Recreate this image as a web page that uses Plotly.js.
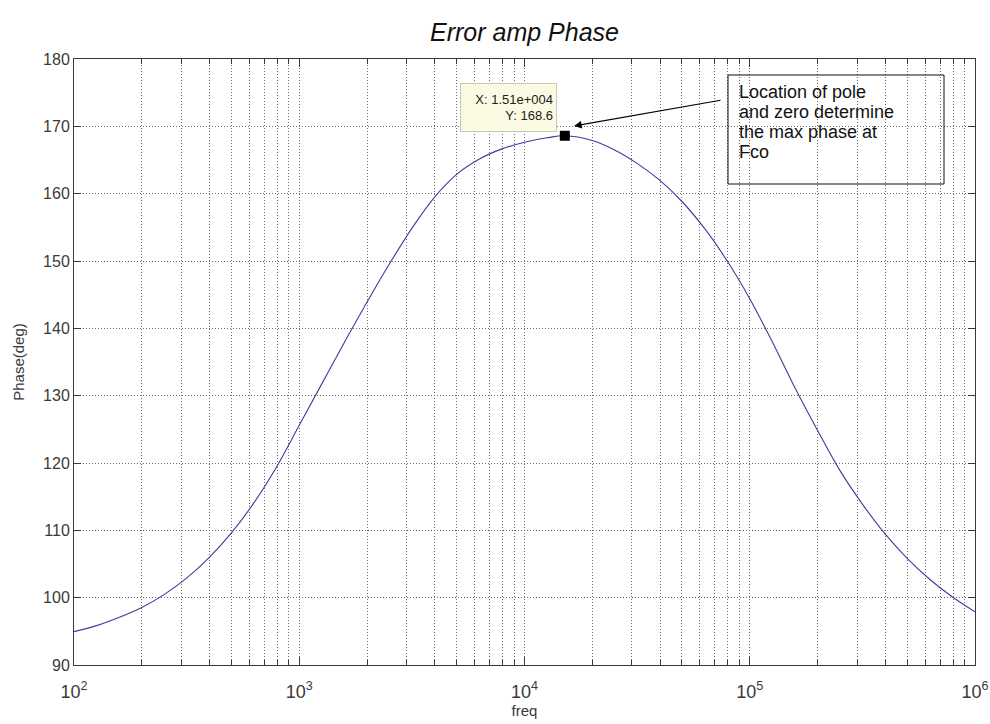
<!DOCTYPE html>
<html>
<head>
<meta charset="utf-8">
<script src="https://cdn.plot.ly/plotly-3.0.1.min.js"></script>
<style>
  html, body { margin: 0; padding: 0; background: #ffffff; }
  #chart { width: 990px; height: 724px; }
</style>
</head>
<body>
<div id="chart"></div>
<script>
// ---- data (frequency in Hz, phase in degrees) ----
const freq = [100, 126, 158, 200, 251, 316, 398, 501, 631, 794, 1000, 1259, 1585, 1995, 2512, 3162, 3981, 5012, 6310, 7943, 10000, 12589, 15100, 19953, 25119, 31623, 39811, 50119, 63096, 79433, 100000, 125893, 158489, 199526, 251189, 316228, 398107, 501187, 630957, 794328, 1000000];
const phase = [94.95, 95.85, 97.05, 98.55, 100.45, 102.9, 105.95, 109.65, 114.15, 119.45, 125.6, 131.75, 137.9, 143.85, 149.55, 154.85, 159.45, 162.9, 165.15, 166.65, 167.65, 168.3, 168.6, 167.9, 166.5, 164.5, 162.0, 158.8, 154.8, 150.0, 144.4, 138.0, 131.2, 124.9, 118.9, 113.9, 109.5, 105.8, 102.7, 100.1, 97.9];
const tipX = 15100;
const tipY = 168.6;
const noteLines = ["Location of pole", "and zero determine", "the max phase at", "Fco"];
const titleText = "Error amp Phase";
const xTitle = "freq";
const yTitle = "Phase(deg)";
const yRange = [90, 180];
const xDecades = [2, 3, 4, 5, 6];

// ---- layout helpers ----
const W = 990, H = 724;
const M = {l: 74, r: 15, t: 59, b: 59};
const PW = W - M.l - M.r, PH = H - M.t - M.b;
const px = v => (v - M.l) / PW;
const py = v => (H - M.b - v) / PH;

function matlabExp(v) {
  const s = v.toExponential(2);
  const [m, e] = s.split('e');
  const sign = e[0];
  const digits = e.slice(1).padStart(3, '0');
  return m + 'e' + sign + digits;
}

const FONT = '"Liberation Sans", Arial, sans-serif';
const gridDash = '1px,2px';
const gridColor = '#6a6a6a';

const traces = [
  {
    x: freq, y: phase, type: 'scatter', mode: 'lines',
    line: {color: '#3d3d9c', width: 1.1, shape: 'spline', smoothing: 1},
    hoverinfo: 'skip', showlegend: false
  },
  {
    x: [tipX], y: [tipY], type: 'scatter', mode: 'markers',
    marker: {symbol: 'square', size: 10, color: '#000000'},
    hoverinfo: 'skip', showlegend: false
  }
];

const annotations = [
  {
    xref: 'x', yref: 'y', x: Math.log10(tipX), y: tipY,
    text: 'X: ' + matlabExp(tipX) + '<br>Y: ' + tipY.toFixed(1),
    showarrow: false, xanchor: 'right', yanchor: 'bottom',
    xshift: -8, yshift: 4, align: 'right',
    bgcolor: '#fbfbe3', bordercolor: '#c8c8b4', borderwidth: 1, borderpad: 3,
    width: 89, height: 41,
    font: {family: FONT, size: 13, color: '#222222'}
  },
  {
    xref: 'paper', yref: 'paper', x: px(574), y: py(126),
    ax: 148, ay: -26, text: '', showarrow: true,
    arrowhead: 2, arrowsize: 1.4, arrowwidth: 1.1, arrowcolor: '#000000'
  }
];
noteLines.forEach((t, i) => {
  annotations.push({
    xref: 'paper', yref: 'paper', x: px(737), y: py(92 + i * 20),
    text: t, showarrow: false, xanchor: 'left', yanchor: 'middle',
    font: {family: FONT, size: 18, color: '#111111'}
  });
});

const layout = {
  width: W, height: H,
  margin: M,
  paper_bgcolor: '#ffffff', plot_bgcolor: '#ffffff',
  font: {family: FONT, size: 16, color: '#3a3a3a'},
  title: {
    text: titleText, x: 0.5, xref: 'paper', xanchor: 'center',
    y: 1 - 32 / H, yref: 'container', yanchor: 'middle',
    font: {family: FONT, size: 25, color: '#111111', style: 'italic'}
  },
  xaxis: {
    type: 'log', range: [xDecades[0], xDecades[xDecades.length - 1]],
    tickmode: 'array',
    tickvals: xDecades.map(d => Math.pow(10, d)),
    ticktext: xDecades.map(d => '10<sup>' + d + '</sup>'),
    ticklabeloverflow: 'allow',
    showline: true, linecolor: '#3a3a3a', linewidth: 1, mirror: 'ticks',
    ticks: 'inside', ticklen: 8, tickcolor: '#3a3a3a',
    ticklabelstandoff: 10,
    showgrid: true, gridcolor: gridColor, griddash: gridDash, gridwidth: 1,
    zeroline: false,
    tickfont: {family: FONT, size: 18, color: '#3a3a3a'},
    minor: {dtick: 'D1', ticks: 'inside', ticklen: 5, tickcolor: '#3a3a3a',
            showgrid: true, gridcolor: gridColor, griddash: gridDash, gridwidth: 1},
    title: {text: xTitle, standoff: 4, font: {family: FONT, size: 15, color: '#3a3a3a'}}
  },
  yaxis: {
    range: yRange, dtick: 10, tick0: 90,
    showline: true, linecolor: '#3a3a3a', linewidth: 1, mirror: 'ticks',
    ticks: 'inside', ticklen: 7, tickcolor: '#3a3a3a',
    showgrid: true, gridcolor: gridColor, griddash: gridDash, gridwidth: 1,
    zeroline: false,
    tickfont: {family: FONT, size: 16, color: '#3a3a3a'},
    title: {text: yTitle, standoff: 14, font: {family: FONT, size: 15, color: '#3a3a3a'}}
  },
  shapes: [
    {type: 'rect', xref: 'paper', yref: 'paper',
     x0: px(728), x1: px(944), y0: py(184), y1: py(75),
     line: {color: '#111111', width: 1}, fillcolor: 'rgba(0,0,0,0)'}
  ],
  annotations: annotations,
  showlegend: false
};

Plotly.newPlot('chart', traces, layout, {displayModeBar: false, staticPlot: true});
</script>
</body>
</html>
